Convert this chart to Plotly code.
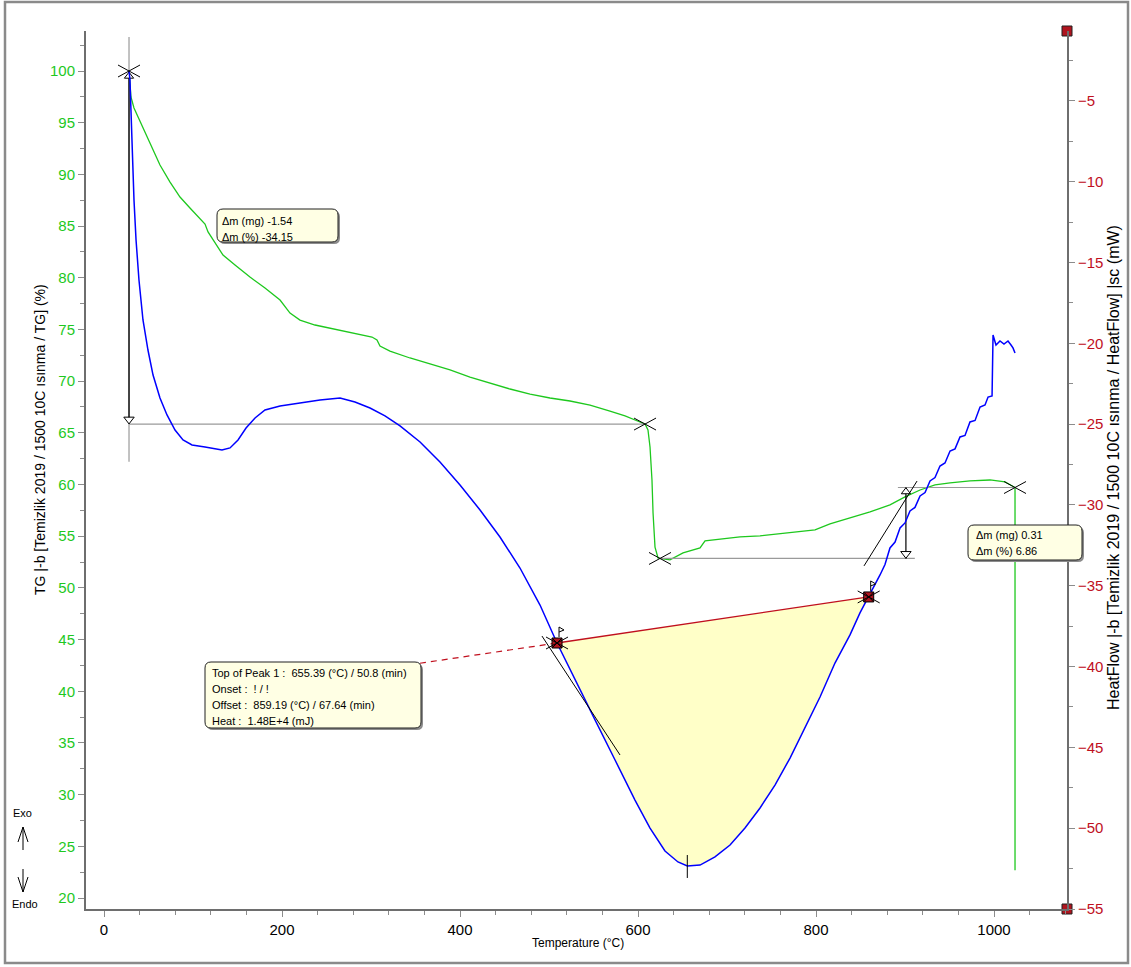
import plotly.graph_objects as go

# ---------------------------------------------------------------- data ----
# TG curve: temperature (°C) and remaining mass (%)
tg_temp = [28.1, 29.2, 30.3, 33.7, 40.4, 51.7, 62.9, 74.2, 85.4, 96.6, 107.9, 113.5,
           116.9, 124.7, 133.7, 147.2, 164.0, 180.9, 197.8, 209.0, 220.2, 237.1, 253.9,
           270.8, 287.6, 301.1, 306.7, 310.1, 321.3, 343.8, 366.3, 388.8, 411.2, 433.7,
           456.2, 478.7, 501.1, 523.6, 546.1, 568.5, 585.4, 602.2, 607.9, 611.2, 613.5,
           615.7, 616.9, 619.1, 622.5, 624.7, 635.9, 650.6, 669.7, 675.3, 692.1, 714.6,
           737.1, 759.6, 782.0, 798.9, 815.7, 838.2, 860.7, 883.1, 900.0, 916.9, 933.7,
           950.6, 973.0, 995.5, 1012.4, 1023.6, 1023.6]
tg_pct = [100.0, 98.65, 97.49, 96.42, 95.16, 93.13, 90.91, 89.26, 87.81, 86.75, 85.78, 85.20,
          84.43, 83.36, 82.20, 81.23, 80.07, 79.01, 77.85, 76.59, 75.91, 75.43, 75.14,
          74.85, 74.56, 74.27, 73.98, 73.40, 72.91, 72.24, 71.66, 71.08, 70.40, 69.82,
          69.24, 68.75, 68.37, 68.08, 67.69, 67.11, 66.63, 66.05, 65.85, 65.27, 63.63,
          60.44, 57.24, 53.95, 52.90, 52.85, 52.71, 53.39, 53.87, 54.55, 54.74, 54.94,
          55.03, 55.22, 55.42, 55.61, 56.19, 56.77, 57.35, 58.03, 58.80, 59.47, 59.96,
          60.16, 60.35, 60.44, 60.25, 59.71, 22.7]

# DSC heat flow curve: temperature (°C) and heat flow (mW)
hf_temp = [28.1, 29.2, 30.3, 31.5, 33.7, 36.0, 39.3, 43.8, 49.4, 55.1, 62.9, 70.8, 79.8,
           88.8, 98.9, 113.5, 124.7, 132.6, 141.6, 150.6, 159.6, 169.7, 180.9, 197.8,
           220.2, 242.7, 265.2, 282.0, 298.9, 315.7, 332.6, 355.1, 377.5, 400.0, 422.5,
           444.9, 467.4, 489.9, 509.0, 529.2, 551.7, 574.2, 596.6, 613.5, 630.3, 644.9,
           655.39, 669.7, 686.5, 703.4, 720.2, 737.1, 753.9, 770.8, 787.6, 804.5, 821.3,
           838.2, 849.4, 859.19, 871.9, 877.5, 883.1, 888.8, 894.4, 900.0, 905.6, 911.2,
           916.9, 922.5, 928.1, 933.7, 939.3, 944.9, 950.6, 956.2, 961.8, 967.4, 973.0,
           978.7, 984.3, 989.9, 993.3, 997.8, 998.9, 1002.2, 1006.7, 1011.2, 1015.7,
           1019.1, 1021.3, 1023.6]
hf_mw = [-3.14, -3.70, -5.56, -8.03, -11.13, -13.60, -16.08, -18.55, -20.41, -21.96, -23.38,
         -24.43, -25.36, -25.98, -26.29, -26.41, -26.53, -26.60, -26.47, -25.98, -25.24,
         -24.62, -24.12, -23.87, -23.69, -23.50, -23.38, -23.63, -24.00, -24.49, -25.11,
         -26.10, -27.34, -28.76, -30.31, -31.98, -33.90, -36.19, -38.54, -40.83, -43.30,
         -45.78, -48.26, -49.99, -51.41, -52.09, -52.34, -52.28, -51.78, -51.04, -49.99,
         -48.75, -47.33, -45.66, -43.80, -41.88, -39.78, -38.04, -36.68, -35.69, -34.33,
         -33.68, -32.66, -32.29, -31.42, -31.11, -30.37, -30.15, -29.44, -29.23, -28.51,
         -28.30, -27.59, -27.40, -26.66, -26.53, -25.79, -25.70, -24.86, -24.77, -23.94,
         -23.81, -23.32, -23.25, -19.48, -20.10, -19.85, -20.04, -19.85, -20.10, -20.28,
         -20.59]

# Peak evaluation (DSC)
onset_t, onset_hf = 509.0, -38.54
offset_t, offset_hf = 859.19, -35.69
peak_t, peak_hf = 655.39, -52.34
baseline_ext_t = 355.0
tangent1_t = [492.1, 579.8]
tangent1_hf = [-38.11, -45.47]
tangent2_t = [853.9, 913.5]
tangent2_hf = [-33.77, -28.52]

# Mass-change steps (TG)
step1_t = [28.1, 607.9]
step1_pct = [100.0, 65.85]
step2_t = [624.7, 1023.6]
step2_pct = [52.85, 59.71]
step2_arrow_t = 901.0

peak_text = ["Top of Peak 1 :  655.39 (°C) / 50.8 (min)",
             "Onset :  ! / !",
             "Offset :  859.19 (°C) / 67.64 (min)",
             "Heat :  1.48E+4 (mJ)"]
step1_text = ["Δm (mg) -1.54", "Δm (%) -34.15"]
step2_text = ["Δm (mg) 0.31", "Δm (%) 6.86"]

x_range = [-20.22, 1082.0]
y_left_range = [18.94, 103.87]
y_right_range = [-55.0, -0.67]

# ---------------------------------------------------------------- layout --
W, H = 1131, 967
L, R, T, B = 86, 1067, 31, 909
FONT = "Liberation Sans, Arial, sans-serif"
GREEN = "#1ec81e"
BLUE = "#0000ff"
DARKRED = "#c0101e"
AXIS = "#6e6e6e"


def px(x):
    return (x - L) / (R - L)


def py(y):
    return (B - y) / (B - T)


def rrect_path(x0, y0, x1, y1, r):
    pts = [
        f"M {px(x0 + r)},{py(y0)}", f"L {px(x1 - r)},{py(y0)}",
        f"Q {px(x1)},{py(y0)} {px(x1)},{py(y0 + r)}", f"L {px(x1)},{py(y1 - r)}",
        f"Q {px(x1)},{py(y1)} {px(x1 - r)},{py(y1)}", f"L {px(x0 + r)},{py(y1)}",
        f"Q {px(x0)},{py(y1)} {px(x0)},{py(y1 - r)}", f"L {px(x0)},{py(y0 + r)}",
        f"Q {px(x0)},{py(y0)} {px(x0 + r)},{py(y0)}", "Z",
    ]
    return " ".join(pts)


def cross(t, v, yref):
    base = dict(type="line", xref="x", yref=yref, xsizemode="pixel", ysizemode="pixel",
                xanchor=t, yanchor=v, line=dict(color="black", width=1))
    return [dict(base, x0=-11, x1=11, y0=-6, y1=6), dict(base, x0=-11, x1=11, y0=6, y1=-6)]


def flag(t, v, yref):
    return dict(type="path", xref="x", yref=yref, xsizemode="pixel", ysizemode="pixel",
                xanchor=t, yanchor=v, path="M 2,6 L 2,16 L 7,13 L 2,11",
                line=dict(color="black", width=1), fillcolor="white")


def text_at(x, y, s, size, angle=0, anchor="center"):
    return dict(xref="paper", yref="paper", x=px(x), y=py(y), text=s, textangle=angle,
                showarrow=False, xanchor=anchor, yanchor="middle",
                font=dict(family=FONT, size=size, color="black"))


fig = go.Figure()

# peak area between curve and baseline
area_t = [t for t in hf_temp if onset_t <= t <= offset_t]
area_hf = [h for t, h in zip(hf_temp, hf_mw) if onset_t <= t <= offset_t]
fig.add_trace(go.Scatter(x=area_t + [offset_t, onset_t], y=area_hf + [offset_hf, onset_hf],
                         yaxis="y2", fill="toself", fillcolor="#ffffc8", mode="lines",
                         line=dict(width=0), hoverinfo="skip"))

slope = (offset_hf - onset_hf) / (offset_t - onset_t)
fig.add_trace(go.Scatter(x=[baseline_ext_t, onset_t],
                         y=[onset_hf + slope * (baseline_ext_t - onset_t), onset_hf],
                         yaxis="y2", mode="lines",
                         line=dict(color=DARKRED, width=1.2, dash="6px,5px")))

# TG curve and step construction lines
fig.add_trace(go.Scatter(x=tg_temp, y=tg_pct, mode="lines", line=dict(color=GREEN, width=1.3)))
gray = dict(color="#9a9a9a", width=1.2)
fig.add_trace(go.Scatter(x=[step1_t[0], step1_t[0]], y=[103.3, 62.2], mode="lines", line=gray))
fig.add_trace(go.Scatter(x=step1_t, y=[step1_pct[1]] * 2, mode="lines", line=gray))
fig.add_trace(go.Scatter(x=[step2_t[0], 911.0], y=[step2_pct[0]] * 2, mode="lines", line=gray))
fig.add_trace(go.Scatter(x=[892.0, step2_t[1]], y=[step2_pct[1]] * 2, mode="lines", line=gray))
fig.add_trace(go.Scatter(x=[step1_t[0], step1_t[0]], y=step1_pct, mode="lines",
                         line=dict(color="black", width=1.3)))
fig.add_trace(go.Scatter(x=[step2_arrow_t, step2_arrow_t], y=step2_pct, mode="lines",
                         line=dict(color="black", width=1.2)))
fig.add_trace(go.Scatter(x=[step1_t[0], step2_arrow_t], y=[66.3, 53.3], mode="markers",
                         marker=dict(symbol="triangle-down", size=9, color="white",
                                     line=dict(color="black", width=1))))
fig.add_trace(go.Scatter(x=[step1_t[0], step2_arrow_t], y=[99.5, 59.3], mode="markers",
                         marker=dict(symbol="triangle-up", size=8, color="white",
                                     line=dict(color="black", width=1))))

# DSC curve, baseline and tangents
fig.add_trace(go.Scatter(x=[onset_t, offset_t], y=[onset_hf, offset_hf], yaxis="y2",
                         mode="lines", line=dict(color=DARKRED, width=1.3)))
fig.add_trace(go.Scatter(x=hf_temp, y=hf_mw, yaxis="y2", mode="lines",
                         line=dict(color=BLUE, width=1.5)))
fig.add_trace(go.Scatter(x=tangent1_t, y=tangent1_hf, yaxis="y2", mode="lines",
                         line=dict(color="black", width=1)))
fig.add_trace(go.Scatter(x=tangent2_t, y=tangent2_hf, yaxis="y2", mode="lines",
                         line=dict(color="black", width=1)))
fig.add_trace(go.Scatter(x=[peak_t, peak_t], y=[-51.66, -53.08], yaxis="y2", mode="lines",
                         line=dict(color="black", width=1)))
fig.add_trace(go.Scatter(x=[onset_t, offset_t], y=[onset_hf, offset_hf], yaxis="y2",
                         mode="markers", marker=dict(symbol="square-x", size=10, color="#b0141e",
                                                     line=dict(color="black", width=1))))
fig.add_trace(go.Scatter(x=[x_range[1], x_range[1]], y=y_right_range, yaxis="y2",
                         mode="markers", cliponaxis=False,
                         marker=dict(symbol="square", size=10, color="#b0141e",
                                     line=dict(color="#202020", width=1))))

shapes = []
for t, v in [(step1_t[0], step1_pct[0]), (step1_t[1], step1_pct[1]),
             (step2_t[0], step2_pct[0]), (step2_t[1], step2_pct[1])]:
    shapes += cross(t, v, "y")
for t, v in [(onset_t, onset_hf), (offset_t, offset_hf)]:
    shapes += cross(t, v, "y2")
    shapes.append(flag(t, v, "y2"))

annotations = []


def info_box(x0, y0, x1, y1, lines, tx, ty0, dy):
    shapes.append(dict(type="path", xref="paper", yref="paper", layer="above",
                       path=rrect_path(x0 + 2, y0 + 2, x1 + 2, y1 + 2, 6),
                       fillcolor="#8c8c8c", line=dict(width=0)))
    shapes.append(dict(type="path", xref="paper", yref="paper", layer="above",
                       path=rrect_path(x0, y0, x1, y1, 6),
                       fillcolor="#ffffe4", line=dict(color="#202020", width=1)))
    for i, s in enumerate(lines):
        annotations.append(text_at(tx, ty0 + i * dy, s, 11, anchor="left"))


info_box(217, 209, 338, 242, step1_text, 220, 221, 15.5)
info_box(205, 662, 421, 728, peak_text, 210, 673, 16)
info_box(968, 525, 1082, 560, step2_text, 974, 535, 16)

# Exo / Endo direction hint
annotations.append(text_at(22, 813, "Exo", 11))
annotations.append(text_at(25, 904, "Endo", 11))
arrow_line = dict(color="black", width=1)
shapes.append(dict(type="path", xref="paper", yref="paper", line=arrow_line,
                   path=f"M {px(23)},{py(850)} L {px(23)},{py(827)} M {px(18)},{py(842)} "
                        f"L {px(23)},{py(827)} L {px(28)},{py(842)}"))
shapes.append(dict(type="path", xref="paper", yref="paper", line=arrow_line,
                   path=f"M {px(23)},{py(869)} L {px(23)},{py(892)} M {px(18)},{py(877)} "
                        f"L {px(23)},{py(892)} L {px(28)},{py(877)}"))

# page frame
shapes.append(dict(type="rect", xref="paper", yref="paper", x0=px(5), x1=px(1128),
                   y0=py(2), y1=py(963), line=dict(color="#8a8a8a", width=2.5)))

# axis titles
annotations.append(text_at(40, 440, "TG |-b [Temizlik 2019 / 1500 10C ısınma / TG] (%)",
                           14, angle=-90))
annotations.append(text_at(1113, 468,
                           "HeatFlow |-b [Temizlik 2019 / 1500 10C ısınma / HeatFlow] |sc (mW)",
                           16, angle=-90))
annotations.append(text_at(578, 943, "Temperature (°C)", 12))

axis_common = dict(showgrid=False, zeroline=False, showline=True, linecolor=AXIS, linewidth=2,
                   ticks="outside", ticklen=6, tickcolor="#8c8c8c", tickwidth=1)

fig.update_layout(
    width=W, height=H,
    margin=dict(l=L, r=W - R, t=T, b=H - B),
    paper_bgcolor="white", plot_bgcolor="white",
    showlegend=False,
    font=dict(family=FONT),
    xaxis=dict(axis_common, range=x_range, tick0=0, dtick=200,
               minor=dict(dtick=40, ticks="outside", ticklen=4, tickcolor="#8c8c8c"),
               tickfont=dict(size=15, color="black")),
    yaxis=dict(axis_common, range=y_left_range, tick0=0, dtick=5,
               minor=dict(dtick=2.5, ticks="outside", ticklen=4, tickcolor="#8c8c8c"),
               tickfont=dict(size=15, color=GREEN)),
    yaxis2=dict(axis_common, range=y_right_range, tick0=0, dtick=5, overlaying="y",
                side="right", anchor="x",
                minor=dict(dtick=2.5, ticks="outside", ticklen=4, tickcolor="#8c8c8c"),
                tickfont=dict(size=15, color=DARKRED)),
    shapes=shapes,
    annotations=annotations,
)

fig.write_html("out.html")
